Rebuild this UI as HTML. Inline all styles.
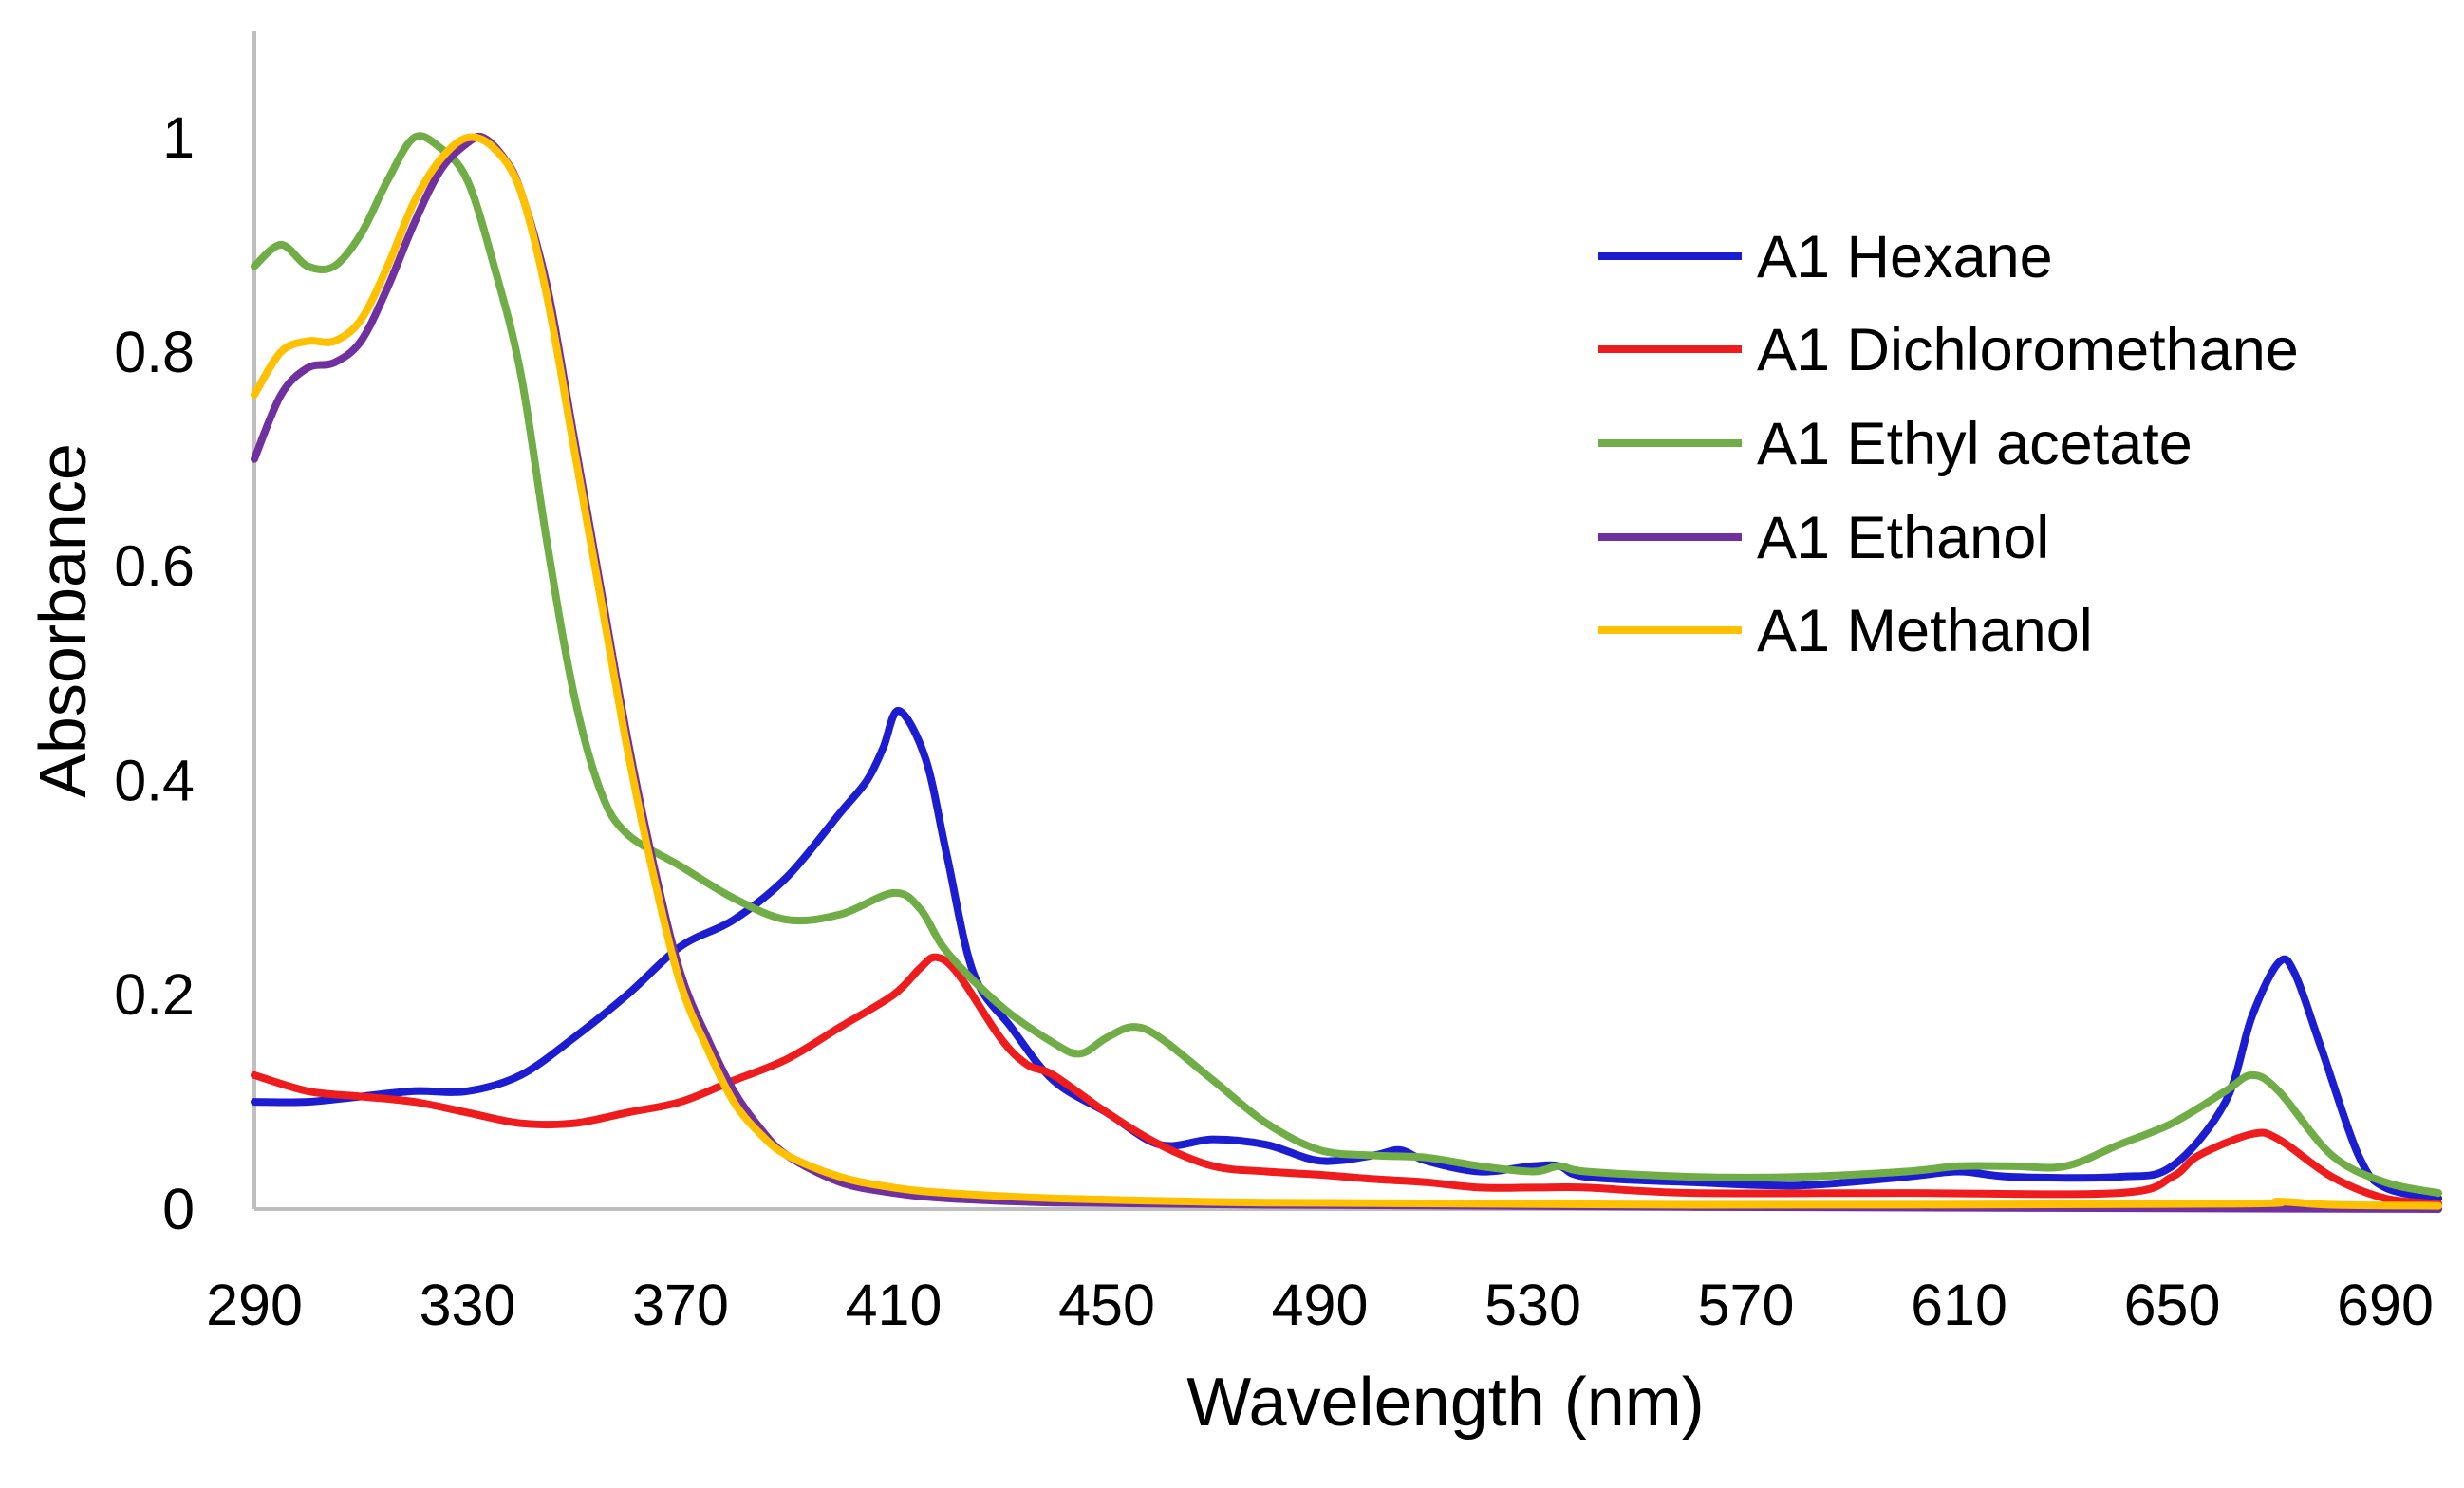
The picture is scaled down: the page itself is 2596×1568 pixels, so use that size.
<!DOCTYPE html>
<html><head><meta charset="utf-8"><style>
html,body{margin:0;padding:0;background:#fff;}
svg{display:block;}
text{font-family:"Liberation Sans",sans-serif;fill:#000;}
</style></head><body>
<svg id="chart" width="2596" height="1568" viewBox="0 0 2596 1568" xmlns="http://www.w3.org/2000/svg">
<g id="axes"></g>
<g id="series"></g>
<text x="1523" y="1502" font-size="72" text-anchor="middle">Wavelength (nm)</text>
<text transform="translate(90,654) rotate(-90)" font-size="70" text-anchor="middle">Absorbance</text>
<g id="legend"></g>
</svg>
<script>
const xTicks=[290,330,370,410,450,490,530,570,610,650,690];
const yTicks=[0,0.2,0.4,0.6,0.8,1];
const yTickLabels=["0","0.2","0.4","0.6","0.8","1"];
const seriesNames=["A1 Hexane","A1 Dichloromethane","A1 Ethyl acetate","A1 Ethanol","A1 Methanol"];
const seriesColors=["#1c1cd0","#ee1c1c","#70ad47","#7030a0","#ffc000"];
const hexWl=[290,300,310,320,330,340,350,360,370,380,390,400,405,408,411,416,420,425,432,440,450,460,470,480,490,500,505,510,520,530,535,540,560,580,600,610,620,640,650,660,665,670,673,678,685,690,700];
const hexAbs=[0.10,0.10,0.105,0.11,0.11,0.125,0.16,0.20,0.245,0.27,0.31,0.37,0.40,0.43,0.465,0.42,0.33,0.22,0.17,0.12,0.09,0.06,0.065,0.06,0.045,0.05,0.055,0.045,0.035,0.04,0.04,0.03,0.025,0.022,0.03,0.035,0.03,0.03,0.04,0.10,0.18,0.23,0.22,0.15,0.05,0.02,0.01];
const dcmWl=[290,300,310,320,330,340,350,360,370,380,390,400,410,415,418,422,430,435,440,450,460,470,480,490,500,510,520,530,540,560,600,640,650,655,665,670,680,690,700];
const dcmAbs=[0.125,0.11,0.105,0.10,0.09,0.08,0.08,0.09,0.10,0.12,0.14,0.17,0.20,0.225,0.235,0.22,0.16,0.135,0.125,0.09,0.06,0.04,0.035,0.032,0.028,0.025,0.02,0.02,0.02,0.015,0.015,0.015,0.03,0.05,0.07,0.065,0.03,0.01,0.005];
const eaWl=[290,295,300,305,310,315,320,325,330,335,340,345,350,355,360,370,380,390,400,410,415,420,430,440,445,450,455,460,470,480,490,500,510,520,530,535,540,560,580,600,610,620,630,640,650,660,665,670,680,690,700];
const eaAbs=[0.88,0.9,0.88,0.88,0.91,0.96,1.0,0.99,0.96,0.88,0.78,0.62,0.48,0.39,0.35,0.32,0.29,0.27,0.275,0.295,0.28,0.24,0.19,0.155,0.145,0.16,0.17,0.16,0.12,0.08,0.055,0.05,0.048,0.04,0.035,0.04,0.035,0.03,0.03,0.035,0.04,0.04,0.04,0.06,0.08,0.11,0.125,0.11,0.05,0.025,0.015];
const etWl=[290,295,300,305,310,315,320,325,330,333,337,340,345,350,355,360,365,370,375,380,385,390,400,410,420,440,480,560,700];
const etAbs=[0.70,0.76,0.785,0.79,0.81,0.86,0.92,0.97,0.995,1.0,0.98,0.95,0.86,0.72,0.58,0.44,0.32,0.22,0.16,0.11,0.075,0.05,0.025,0.015,0.01,0.006,0.004,0.002,0.0];
const meWl=[290,295,300,305,310,315,320,325,330,335,340,345,350,355,360,365,370,375,380,385,390,400,410,420,440,480,560,660,670,680,700];
const meAbs=[0.76,0.8,0.81,0.81,0.83,0.88,0.94,0.98,1.0,0.99,0.95,0.85,0.71,0.57,0.43,0.31,0.21,0.15,0.10,0.07,0.05,0.03,0.02,0.015,0.01,0.006,0.004,0.005,0.007,0.004,0.003];

const X0=268,Y0=1274,PXNM=224.5/40,PXY=1129;
function sx(w){return X0+(w-290)*PXNM;}
function sy(v){return Y0-v*PXY;}
const NS="http://www.w3.org/2000/svg";
function mk(tag,attrs,parent){const e=document.createElementNS(NS,tag);for(const k in attrs)e.setAttribute(k,attrs[k]);parent.appendChild(e);return e;}
function smoothPath(P){
  let d='M'+P[0][0].toFixed(1)+','+P[0][1].toFixed(1);
  for(let i=0;i<P.length-1;i++){
    const p0=P[Math.max(i-1,0)],p1=P[i],p2=P[i+1],p3=P[Math.min(i+2,P.length-1)];
    const c1x=p1[0]+(p2[0]-p0[0])/6,c1y=p1[1]+(p2[1]-p0[1])/6;
    const c2x=p2[0]-(p3[0]-p1[0])/6,c2y=p2[1]-(p3[1]-p1[1])/6;
    d+=' C'+c1x.toFixed(1)+','+c1y.toFixed(1)+' '+c2x.toFixed(1)+','+c2y.toFixed(1)+' '+p2[0].toFixed(1)+','+p2[1].toFixed(1);
  }
  return d;
}
const axes=document.getElementById('axes');
let yl=mk('line',{x1:X0,y1:33,x2:X0,y2:Y0,stroke:'#bfbfbf','stroke-width':4},axes);


let xl=mk('line',{x1:X0,y1:Y0,x2:2570,y2:Y0,stroke:'#bfbfbf','stroke-width':4},axes);


xTicks.forEach(t=>{
  const e=mk('text',{x:sx(t),y:1396,'font-size':61,'text-anchor':'middle'},axes);
  e.textContent=t;
  
  
});
yTicks.forEach((t,i)=>{
  const e=mk('text',{x:205,y:sy(t)+21,'font-size':61,'text-anchor':'end'},axes);
  e.textContent=yTickLabels[i];
  
  
});
const data=[[hexWl,hexAbs],[dcmWl,dcmAbs],[eaWl,eaAbs],[etWl,etAbs],[meWl,meAbs]];
const sg=document.getElementById('series');
data.forEach((d,i)=>{
  const P=d[0].map((w,j)=>[sx(w),sy(d[1][j])]);
  const p=mk('path',{d:smoothPath(P),fill:'none',stroke:seriesColors[i],'stroke-width':8,'stroke-linejoin':'round','stroke-linecap':'round'},sg);
  
  
});
const lg=document.getElementById('legend');
const rows=[270,368,467,566,664];
seriesNames.forEach((n,i)=>{
  const l=mk('line',{x1:1684,y1:rows[i],x2:1835,y2:rows[i],stroke:seriesColors[i],'stroke-width':8},lg);
  
  
  const t=mk('text',{x:1851,y:rows[i]+22,'font-size':63},lg);
  t.textContent=n;
  
  
});
</script>
</body></html>
